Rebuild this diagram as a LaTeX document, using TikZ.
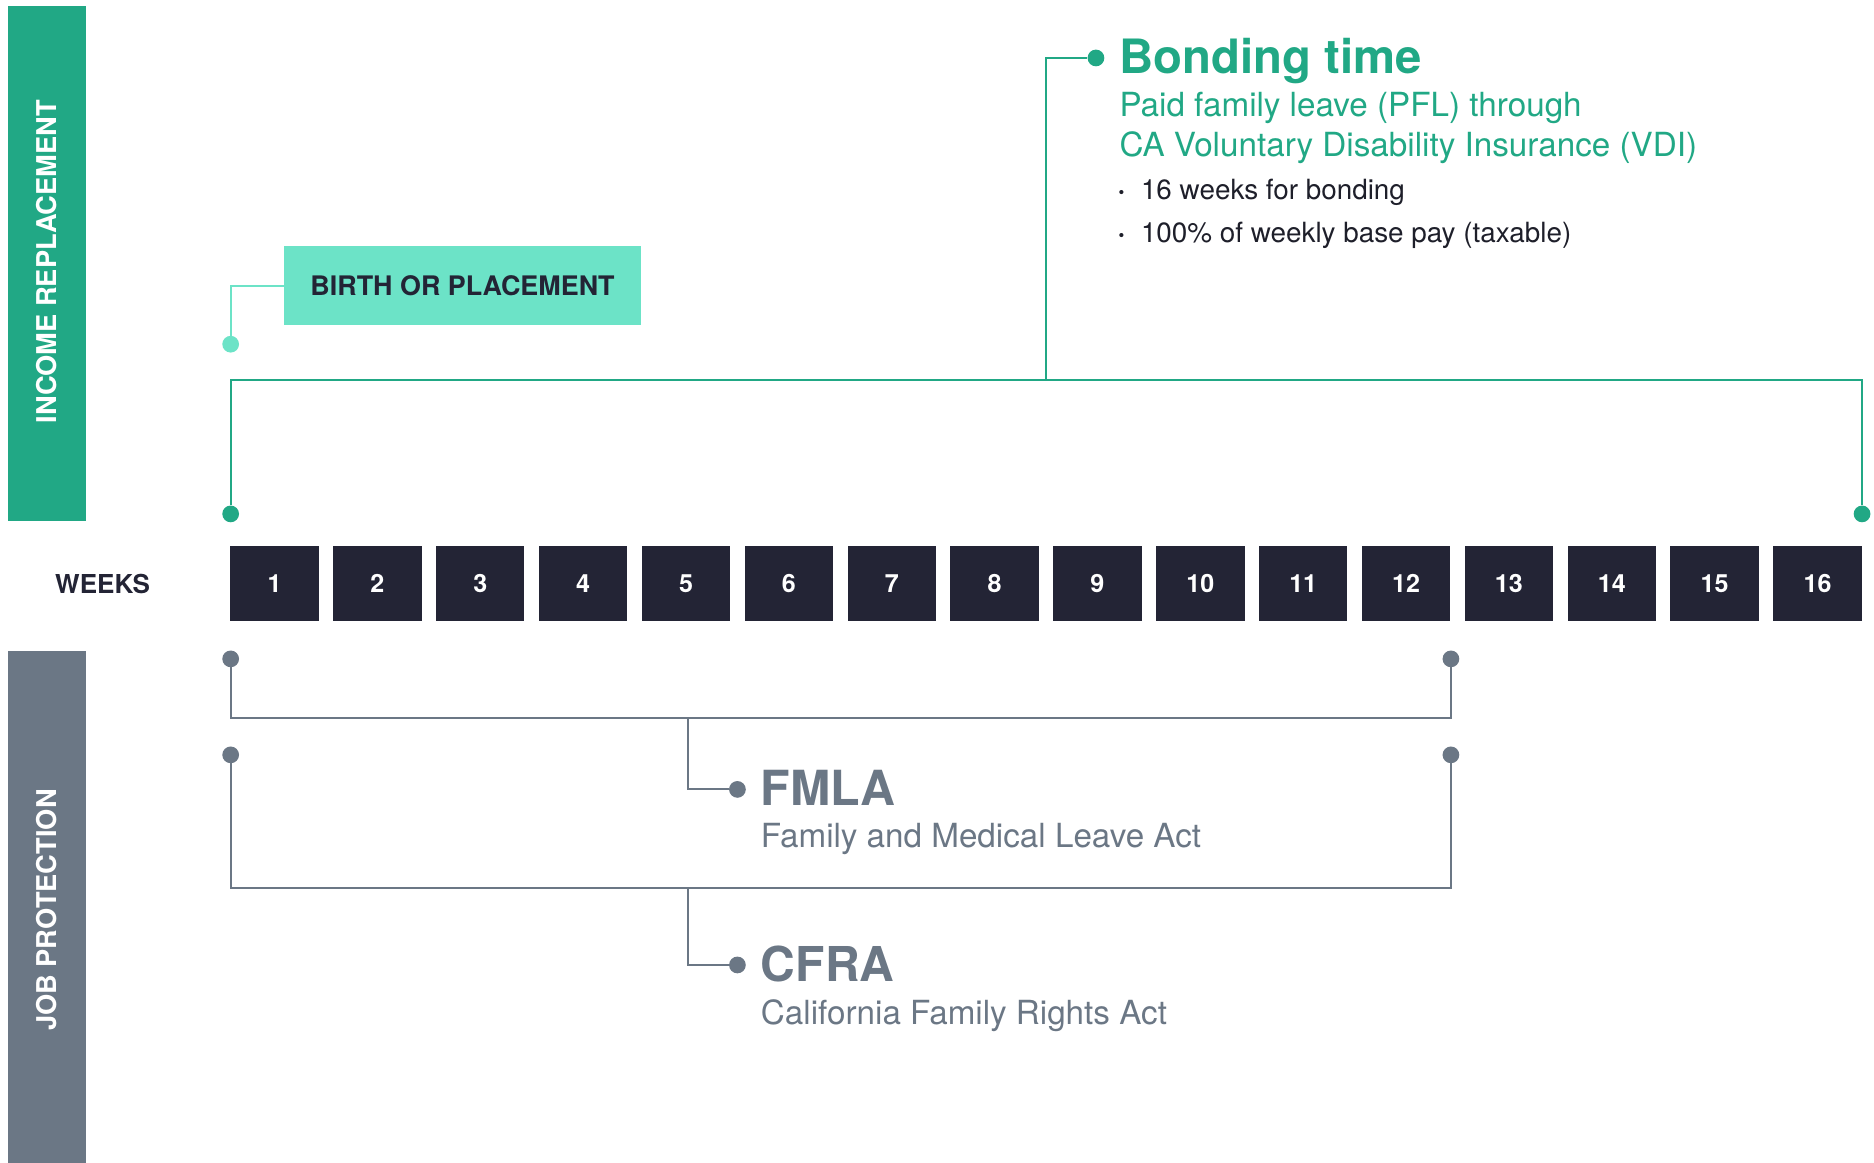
\documentclass[tikz,border=0pt]{standalone}
\usepackage{fontspec}
\setmainfont{TeX Gyre Heros}
\usetikzlibrary{positioning}
\definecolor{bondgreen}{HTML}{21A885}
\definecolor{mint}{HTML}{6CE3C7}
\definecolor{navy}{HTML}{232435}
\definecolor{slate}{HTML}{6B7785}
\definecolor{ink}{HTML}{1E1F2A}
\tikzset{every node/.append style={inner sep=0pt}}
\tikzset{weekbox/.style={fill=navy,text=white,minimum width=74pt,minimum height=63pt,
  font=\fontsize{21}{25}\selectfont\bfseries}}
\tikzset{gdot/.style={circle,fill=bondgreen,minimum size=14pt},
  mdot/.style={circle,fill=mint,minimum size=14pt},
  sdot/.style={circle,fill=slate,minimum size=14pt}}
\tikzset{gline/.style={bondgreen,line width=1.8pt},
  mline/.style={mint,line width=1.8pt},
  sline/.style={slate,line width=1.8pt}}
\tikzset{txt/.style={anchor=base west},
  sidelabel/.style={rotate=90,text=white,font=\fontsize{22.8}{26}\selectfont\bfseries}}

\begin{document}
\begin{tikzpicture}[x=1pt,y=-1pt]
\useasboundingbox (0,0) rectangle (1568,973);
% side bands
\fill[bondgreen] (6.5,5) rectangle (72,436);
\fill[slate] (6.5,544.5) rectangle (72,973);
\node[sidelabel] (income) at (39.3,219) {INCOME REPLACEMENT};
\node[sidelabel] (job) at (39.3,761.5) {JOB PROTECTION};
% weeks
\node[txt,text=navy,font=\fontsize{21.8}{25}\selectfont\bfseries] (weeks) at (46,496.5) {WEEKS};
\foreach \i in {1,...,16}
  \node[weekbox] (w\i) at ({229.7+(\i-1)*86.07},488.5) {\i};
% birth or placement
\node[fill=mint,text=navy,minimum width=299pt,minimum height=66pt,
  font=\fontsize{22.5}{26}\selectfont\bfseries] (birth) at (387,239) {BIRTH OR PLACEMENT};
\node[mdot] (bdot) at (193,288) {};
\draw[mline] (birth.west) -| (bdot);
% bonding time bracket
\node[gdot] (g1) at (193,430) {};
\node[gdot] (g16) at (1558,430) {};
\coordinate (gtop) at (875.5,318);
\node[gdot] (bond) at (917,48.5) {};
\draw[gline] (g1) |- (gtop) -| (g16);
\draw[gline] (gtop) |- (bond);
\node[txt,text=bondgreen,font=\fontsize{39.6}{44}\selectfont\bfseries] (bondt) at (936.5,61.5) {Bonding time};
\node[txt,text=bondgreen,font=\fontsize{27.8}{30}\selectfont] (pfl) at (936.5,97.5) {Paid family leave (PFL) through};
\node[txt,text=bondgreen,font=\fontsize{27.8}{30}\selectfont] (vdi) at (936.5,131) {CA Voluntary Disability Insurance (VDI)};
\node[txt,text=ink,font=\fontsize{23.3}{26}\selectfont] (wk16) at (935,167) {\textbf{·}\hskip 13pt 16 weeks for bonding};
\node[txt,text=ink,font=\fontsize{23.3}{26}\selectfont] (pay) at (935,203) {\textbf{·}\hskip 13pt 100\% of weekly base pay (taxable)};
% FMLA bracket
\node[sdot] (f1) at (193,551.3) {};
\node[sdot] (f12) at (1214,551.3) {};
\coordinate (ftop) at (576,600.5);
\node[sdot] (fdot) at (617,660.5) {};
\draw[sline] (f1) |- (ftop) -| (f12);
\draw[sline] (ftop) |- (fdot);
\node[txt,text=slate,font=\fontsize{40.5}{45}\selectfont\bfseries] (fmla) at (636.5,673.6) {FMLA};
\node[txt,text=slate,font=\fontsize{27.8}{30}\selectfont] (fmlal) at (636.5,709.4) {Family and Medical Leave Act};
% CFRA bracket
\node[sdot] (c1) at (193,631.6) {};
\node[sdot] (c12) at (1214,631.6) {};
\coordinate (ctop) at (576,743);
\node[sdot] (cdot) at (617,807.4) {};
\draw[sline] (c1) |- (ctop) -| (c12);
\draw[sline] (ctop) |- (cdot);
\node[txt,text=slate,font=\fontsize{40.2}{45}\selectfont\bfseries] (cfra) at (636.5,821.4) {CFRA};
\node[txt,text=slate,font=\fontsize{27.8}{30}\selectfont] (cfral) at (636.5,857) {California Family Rights Act};
\end{tikzpicture}
\end{document}
